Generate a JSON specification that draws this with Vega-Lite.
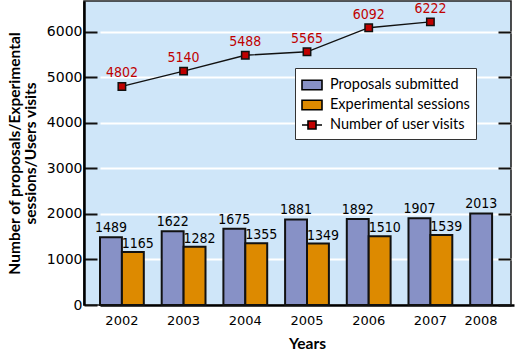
{
  "$schema": "https://vega.github.io/schema/vega-lite/v6.json",
  "width": 427,
  "height": 304,
  "autosize": "none",
  "padding": {"left": 84, "top": 1, "right": 17, "bottom": 53},
  "background": "white",
  "config": {
    "view": {"fill": "#cfe6f9", "stroke": "#222222", "strokeWidth": 1.6},
    "font": "Lato"
  },
  "data": {
    "values": [
      {"year": "2002", "series": "Proposals submitted", "value": 1489},
      {"year": "2003", "series": "Proposals submitted", "value": 1622},
      {"year": "2004", "series": "Proposals submitted", "value": 1675},
      {"year": "2005", "series": "Proposals submitted", "value": 1881},
      {"year": "2006", "series": "Proposals submitted", "value": 1892},
      {"year": "2007", "series": "Proposals submitted", "value": 1907},
      {"year": "2008", "series": "Proposals submitted", "value": 2013},
      {"year": "2002", "series": "Experimental sessions", "value": 1165},
      {"year": "2003", "series": "Experimental sessions", "value": 1282},
      {"year": "2004", "series": "Experimental sessions", "value": 1355},
      {"year": "2005", "series": "Experimental sessions", "value": 1349},
      {"year": "2006", "series": "Experimental sessions", "value": 1510},
      {"year": "2007", "series": "Experimental sessions", "value": 1539},
      {"year": "2002", "series": "Number of user visits", "value": 4802},
      {"year": "2003", "series": "Number of user visits", "value": 5140},
      {"year": "2004", "series": "Number of user visits", "value": 5488},
      {"year": "2005", "series": "Number of user visits", "value": 5565},
      {"year": "2006", "series": "Number of user visits", "value": 6092},
      {"year": "2007", "series": "Number of user visits", "value": 6222}
    ]
  },
  "encoding": {
    "x": {
      "field": "year",
      "type": "nominal",
      "scale": {"range": [16, 430], "paddingInner": 0.29, "paddingOuter": 0},
      "axis": {
        "title": "Years",
        "titleFont": "Lato",
        "titleFontWeight": "bold",
        "titleFontSize": 15.5,
        "titleColor": "black",
        "titleX": 223,
        "titleY": 43,
        "titleBaseline": "alphabetic",
        "labelAngle": 0,
        "labelFont": "DejaVu Sans",
        "labelFontSize": 13,
        "labelColor": "black",
        "labelPadding": 9,
        "labelOffset": {"condition": {"test": "datum.value == '2008'", "value": -11}, "value": 0},
        "ticks": false,
        "domainColor": "black",
        "domainWidth": 2.5
      }
    }
  },
  "layer": [
    {
      "transform": [{"filter": "datum.series != 'Number of user visits'"}],
      "mark": {"type": "bar", "stroke": "#111111", "strokeWidth": 2},
      "encoding": {
        "xOffset": {"field": "series", "type": "nominal", "scale": {"domain": ["Proposals submitted", "Experimental sessions"], "paddingInner": 0}},
        "y": {
          "field": "value",
          "type": "quantitative",
          "scale": {"domain": [0, 6680], "nice": false},
          "axis": {
            "orient": "left",
            "values": [0, 1000, 2000, 3000, 4000, 5000, 6000],
            "format": "d",
            "offset": -13,
            "domain": false,
            "tickSize": 13,
            "tickColor": "#111111",
            "tickWidth": 2,
            "labelFont": "DejaVu Sans",
            "labelFontSize": 14,
            "labelColor": "black",
            "labelPadding": 2,
            "grid": true,
            "gridColor": "white",
            "gridWidth": 2,
            "title": ["Number of proposals/Experimental", "sessions/Users visits"],
            "titleFont": "Lato",
            "titleFontWeight": "bold",
            "titleFontSize": 15.5,
            "titleLineHeight": 16,
            "titleColor": "black",
            "titlePadding": 8
          }
        },
        "fill": {
          "field": "series",
          "type": "nominal",
          "scale": {
            "domain": ["Proposals submitted", "Experimental sessions", "Number of user visits"],
            "range": ["#8791c6", "#dd8a00", "#c00000"]
          },
          "legend": {
            "title": null,
            "orient": "none",
            "legendX": 211,
            "legendY": 67,
            "padding": 6,
            "fillColor": "white",
            "strokeColor": "#333333",
            "cornerRadius": 0,
            "symbolType": "M-1,-0.47H1V0.47H-1Z",
            "symbolSize": 400,
            "symbolStrokeColor": "black",
            "symbolStrokeWidth": 1.6,
            "rowPadding": 1,
            "labelFont": "Lato",
            "labelFontSize": 14.5,
            "labelColor": "black",
            "labelOffset": 7,
            "encode": {
              "symbols": {
                "update": {
                  "shape": {"signal": "datum.value === 'Number of user visits' ? 'M-1,0H-0.4M0.4,0H1M-0.4,-0.4H0.4V0.4H-0.4Z' : 'M-1,-0.47H1V0.47H-1Z'"}
                }
              }
            }
          }
        }
      }
    },
    {
      "transform": [{"filter": "datum.series == 'Proposals submitted'"}],
      "mark": {"type": "text", "baseline": "alphabetic", "dy": -5, "font": "Liberation Sans Narrow, DejaVu Sans Condensed", "fontSize": 14, "color": "black"},
      "encoding": {
        "xOffset": {"field": "series", "type": "nominal"},
        "y": {
          "field": "value",
          "type": "quantitative",
          "axis": {
            "orient": "left",
            "domain": true,
            "domainColor": "black",
            "domainWidth": 2.5,
            "ticks": false,
            "labels": false,
            "grid": false,
            "title": null
          }
        },
        "text": {"field": "value", "type": "quantitative", "format": "d"}
      }
    },
    {
      "transform": [{"filter": "datum.series == 'Experimental sessions'"}],
      "mark": {"type": "text", "baseline": "alphabetic", "dy": -4, "dx": 5, "font": "Liberation Sans Narrow, DejaVu Sans Condensed", "fontSize": 14, "color": "black"},
      "encoding": {
        "xOffset": {"field": "series", "type": "nominal"},
        "y": {"field": "value", "type": "quantitative", "axis": null},
        "text": {"field": "value", "type": "quantitative", "format": "d"}
      }
    },
    {
      "transform": [{"filter": "datum.series == 'Number of user visits'"}],
      "mark": {"type": "line", "color": "#111111", "strokeWidth": 1.3},
      "encoding": {
        "y": {
          "field": "value",
          "type": "quantitative",
          "axis": {
            "orient": "right",
            "values": [0, 1000, 2000, 3000, 4000, 5000, 6000],
            "offset": -13,
            "domain": false,
            "labels": false,
            "grid": false,
            "tickSize": 13,
            "tickColor": "#111111",
            "tickWidth": 2,
            "title": null
          }
        }
      }
    },
    {
      "transform": [{"filter": "datum.series == 'Number of user visits'"}],
      "mark": {"type": "point", "shape": "square", "filled": true, "size": 55, "stroke": "#111111", "strokeWidth": 1.5, "opacity": 1},
      "encoding": {
        "y": {"field": "value", "type": "quantitative", "axis": null},
        "fill": {"field": "series", "type": "nominal", "legend": null}
      }
    },
    {
      "transform": [{"filter": "datum.series == 'Number of user visits'"}],
      "mark": {"type": "text", "baseline": "alphabetic", "dy": -9, "font": "Liberation Sans Narrow, DejaVu Sans Condensed", "fontSize": 14, "color": "#c00000"},
      "encoding": {
        "y": {"field": "value", "type": "quantitative", "axis": null},
        "text": {"field": "value", "type": "quantitative", "format": "d"}
      }
    }
  ],
  "resolve": {"axis": {"y": "independent"}}
}
